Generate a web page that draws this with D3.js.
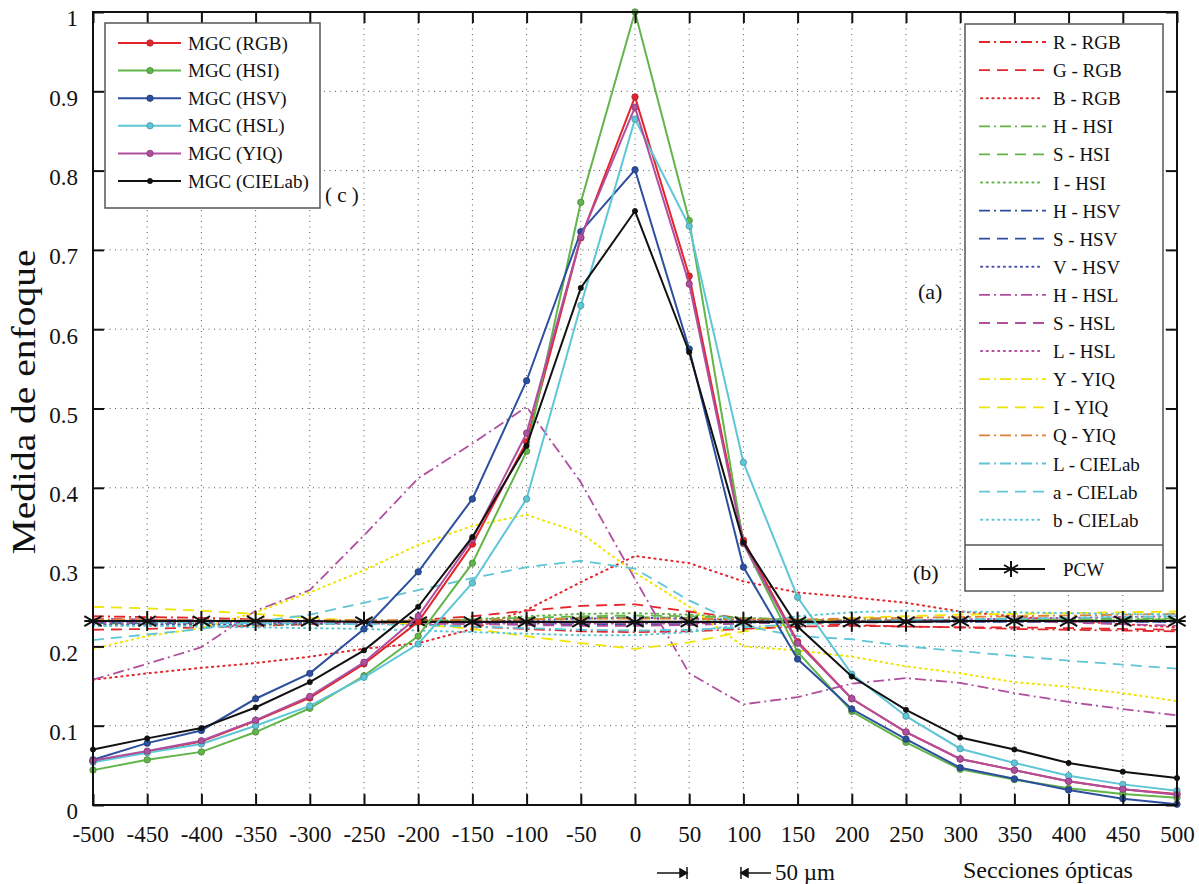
<!DOCTYPE html>
<html><head><meta charset="utf-8">
<script src="https://cdn.jsdelivr.net/npm/d3@7"></script>
<style>body{margin:0;background:#fff}svg{display:block}svg text{font-family:"Liberation Serif","Tinos","Times New Roman","DejaVu Serif","Noto Serif",serif !important;fill:#111}</style>
</head><body><svg id="c" width="1199" height="884"></svg>
<script>
const xs = [-500,-450,-400,-350,-300,-250,-200,-150,-100,-50,0,50,100,150,200,250,300,350,400,450,500];
const yTicks = [0,0.1,0.2,0.3,0.4,0.5,0.6,0.7,0.8,0.9,1];
const yTickLabels = ["0","0.1","0.2","0.3","0.4","0.5","0.6","0.7","0.8","0.9","1"];

// MGC series (solid with markers)
const mgcNames = ["MGC (RGB)","MGC (HSI)","MGC (HSV)","MGC (HSL)","MGC (YIQ)","MGC (CIELab)"];
const mgcRGB   = [0.055,0.067,0.080,0.106,0.135,0.178,0.231,0.329,0.458,0.715,0.893,0.667,0.334,0.206,0.134,0.092,0.058,0.044,0.030,0.020,0.014];
const mgcHSI   = [0.044,0.057,0.067,0.092,0.122,0.163,0.213,0.305,0.446,0.760,1.000,0.737,0.330,0.193,0.118,0.079,0.045,0.032,0.021,0.014,0.009];
const mgcHSV   = [0.057,0.078,0.094,0.134,0.166,0.222,0.294,0.386,0.535,0.723,0.801,0.575,0.300,0.184,0.121,0.083,0.047,0.033,0.019,0.008,0.001];
const mgcHSL   = [0.054,0.066,0.077,0.100,0.125,0.161,0.203,0.280,0.386,0.630,0.865,0.730,0.432,0.262,0.165,0.112,0.071,0.053,0.037,0.026,0.018];
const mgcYIQ   = [0.056,0.068,0.081,0.107,0.137,0.180,0.238,0.335,0.469,0.716,0.880,0.657,0.330,0.204,0.134,0.092,0.058,0.044,0.030,0.020,0.013];
const mgcCIELab= [0.070,0.084,0.097,0.123,0.155,0.195,0.250,0.338,0.453,0.652,0.749,0.571,0.331,0.225,0.162,0.120,0.085,0.070,0.053,0.042,0.034];
const mgcColors = ["#e3262c","#62b549","#2c4f9e","#5ec6d6","#b14f9f","#111111"];

// PCW
const pcw = [0.232,0.232,0.232,0.232,0.232,0.231,0.231,0.231,0.231,0.231,0.231,0.231,0.231,0.231,0.231,0.231,0.232,0.232,0.232,0.232,0.232];

// channel series
const chNames = ["R - RGB","G - RGB","B - RGB","H - HSI","S - HSI","I - HSI","H - HSV","S - HSV","V - HSV","H - HSL","S - HSL","L - HSL","Y - YIQ","I - YIQ","Q - YIQ","L - CIELab","a - CIELab","b - CIELab"];
const chColors = ["#e3262c","#e3262c","#e3262c","#62b549","#62b549","#62b549","#2c4f9e","#2c4f9e","#4a50b0","#b14f9f","#b14f9f","#b14f9f","#f0e400","#f0e400","#e0802e","#5ec6d6","#5ec6d6","#5ec6d6"];
const chStyles = ["dashdot","dashed","dotted","dashdot","dashed","dotted","dashdot","dashed","dotted","dashdot","dashed","dotted","dashdot","dashed","dashdot","dashdot","dashed","dotted"];
const chR  = [0.238,0.237,0.236,0.234,0.232,0.230,0.228,0.225,0.222,0.219,0.218,0.219,0.222,0.225,0.226,0.225,0.224,0.222,0.221,0.220,0.219];
const chG  = [0.221,0.222,0.224,0.226,0.228,0.230,0.233,0.238,0.245,0.251,0.253,0.244,0.235,0.230,0.227,0.225,0.224,0.224,0.223,0.222,0.221];
const chB  = [0.158,0.166,0.173,0.179,0.187,0.197,0.204,0.222,0.246,0.281,0.314,0.305,0.282,0.268,0.262,0.255,0.244,0.238,0.232,0.228,0.224];
const chHi = [0.232,0.232,0.231,0.231,0.231,0.232,0.232,0.233,0.234,0.236,0.237,0.236,0.234,0.233,0.233,0.233,0.233,0.234,0.234,0.235,0.235];
const chSi = [0.229,0.229,0.229,0.230,0.230,0.231,0.232,0.234,0.236,0.238,0.239,0.238,0.236,0.234,0.233,0.233,0.233,0.233,0.233,0.234,0.234];
const chIi = [0.226,0.226,0.227,0.227,0.228,0.229,0.231,0.234,0.238,0.241,0.242,0.240,0.236,0.233,0.232,0.232,0.232,0.233,0.233,0.233,0.234];
const chHv = [0.233,0.233,0.233,0.233,0.232,0.232,0.232,0.232,0.231,0.231,0.231,0.231,0.231,0.232,0.232,0.232,0.232,0.232,0.232,0.232,0.232];
const chSv = [0.230,0.230,0.230,0.230,0.230,0.230,0.229,0.229,0.228,0.228,0.228,0.228,0.229,0.230,0.230,0.231,0.231,0.231,0.231,0.231,0.231];
const chVv = [0.228,0.228,0.228,0.228,0.229,0.229,0.230,0.231,0.233,0.235,0.236,0.235,0.233,0.232,0.231,0.231,0.231,0.231,0.231,0.231,0.231];
const chHl = [0.158,0.178,0.199,0.245,0.271,0.340,0.412,0.456,0.502,0.407,0.285,0.166,0.127,0.136,0.153,0.160,0.154,0.141,0.130,0.121,0.113];
const chSl = [0.235,0.234,0.233,0.232,0.231,0.230,0.229,0.228,0.227,0.226,0.226,0.227,0.229,0.231,0.232,0.233,0.233,0.232,0.230,0.228,0.226];
const chLl = [0.230,0.230,0.230,0.230,0.230,0.229,0.229,0.229,0.229,0.229,0.229,0.229,0.230,0.231,0.232,0.233,0.234,0.235,0.236,0.237,0.238];
const chY  = [0.197,0.213,0.223,0.243,0.268,0.296,0.328,0.352,0.366,0.343,0.293,0.250,0.200,0.195,0.187,0.175,0.166,0.155,0.149,0.141,0.131];
const chI  = [0.250,0.248,0.245,0.241,0.236,0.232,0.228,0.222,0.213,0.204,0.197,0.205,0.219,0.230,0.236,0.238,0.240,0.241,0.242,0.243,0.244];
const chQ  = [0.234,0.234,0.233,0.233,0.233,0.233,0.233,0.233,0.234,0.235,0.235,0.235,0.234,0.234,0.235,0.236,0.237,0.238,0.239,0.240,0.241];
const chL  = [0.232,0.231,0.230,0.229,0.229,0.228,0.227,0.225,0.223,0.221,0.220,0.221,0.224,0.228,0.231,0.233,0.234,0.235,0.236,0.237,0.238];
const chA  = [0.208,0.215,0.222,0.231,0.240,0.255,0.271,0.286,0.300,0.308,0.298,0.258,0.226,0.213,0.209,0.200,0.194,0.188,0.182,0.177,0.172];
const chBl = [0.226,0.226,0.225,0.224,0.223,0.222,0.220,0.218,0.216,0.214,0.214,0.218,0.228,0.238,0.243,0.245,0.244,0.243,0.242,0.241,0.240];
const chData = [chR,chG,chB,chHi,chSi,chIi,chHv,chSv,chVv,chHl,chSl,chLl,chY,chI,chQ,chL,chA,chBl];

const svg = d3.select("#c");
const L=93,R=1177,T=12,B=805;
const x = d3.scaleLinear().domain([-500,500]).range([L,R]);
const y = d3.scaleLinear().domain([0,1]).range([B,T]);
const dashes = {dashed:"11,7", dashdot:"11,4,2,4", dotted:"1.2,4.5"};

// grid
const g = svg.append("g");
g.selectAll(".gx").data(xs.slice(1,-1)).join("line")
  .attr("x1",d=>x(d)).attr("x2",d=>x(d)).attr("y1",T).attr("y2",B)
  .attr("stroke","#555").attr("stroke-width",1).attr("stroke-dasharray","1,4.5");
g.selectAll(".gy").data(yTicks.slice(1,-1)).join("line")
  .attr("x1",L).attr("x2",R).attr("y1",d=>y(d)).attr("y2",d=>y(d))
  .attr("stroke","#555").attr("stroke-width",1).attr("stroke-dasharray","1,4.5");

const line = d3.line().x((d,i)=>x(xs[i])).y(d=>y(d));

// channel lines
chData.forEach((arr,k)=>{
  const st = (k===12) ? "dotted" : chStyles[k];
  svg.append("path").attr("d",line(arr)).attr("fill","none")
    .attr("stroke",chColors[k]).attr("stroke-width", st==="dotted"?2:1.8)
    .attr("stroke-linecap", st==="dotted"?"round":"butt")
    .attr("stroke-dasharray",dashes[st]);
});

// PCW
function star(sel,cx,cy,s){
  const gg = sel.append("g").attr("stroke","#111").attr("stroke-width",2);
  [0,60,120].forEach(a=>{
    const r=a*Math.PI/180;
    gg.append("line").attr("x1",cx-s*Math.sin(r)).attr("y1",cy-s*Math.cos(r))
      .attr("x2",cx+s*Math.sin(r)).attr("y2",cy+s*Math.cos(r));
  });
  gg.append("line").attr("x1",cx-s*0.87).attr("x2",cx+s*0.87).attr("y1",cy).attr("y2",cy);
}
svg.append("path").attr("d",line(pcw)).attr("fill","none").attr("stroke","#111").attr("stroke-width",2.2);
pcw.forEach((v,i)=>star(svg,x(xs[i]),y(v),10));

// MGC lines
const mgcData=[mgcRGB,mgcHSI,mgcHSV,mgcHSL,mgcYIQ,mgcCIELab];
mgcData.forEach((arr,k)=>{
  svg.append("path").attr("d",line(arr)).attr("fill","none").attr("stroke",mgcColors[k]).attr("stroke-width",2);
  svg.append("g").selectAll("circle").data(arr).join("circle")
    .attr("cx",(d,i)=>x(xs[i])).attr("cy",d=>y(d)).attr("r",k===5?2.6:3.2)
    .attr("fill",mgcColors[k]).attr("stroke",d3.color(mgcColors[k]).darker(0.8)).attr("stroke-width",0.8);
});

// frame
svg.append("rect").attr("x",L).attr("y",T).attr("width",R-L).attr("height",B-T)
  .attr("fill","none").attr("stroke","#111").attr("stroke-width",2);

// axes
const ax = svg.append("g").attr("transform",`translate(0,${B})`)
  .call(d3.axisBottom(x).tickValues(xs).tickSize(-11).tickPadding(21).tickFormat(d=>String(d)));
const ay = svg.append("g").attr("transform",`translate(${L},0)`)
  .call(d3.axisLeft(y).tickValues(yTicks).tickSize(-11).tickPadding(15).tickFormat((d,i)=>yTickLabels[i]));
const axt = svg.append("g").attr("transform",`translate(0,${T})`)
  .call(d3.axisTop(x).tickValues(xs).tickSize(-11).tickFormat(""));
const ayr = svg.append("g").attr("transform",`translate(${R},0)`)
  .call(d3.axisRight(y).tickValues(yTicks).tickSize(-11).tickFormat(""));
[ax,ay,axt,ayr].forEach(a=>{
  a.select(".domain").remove();
  a.selectAll(".tick line").attr("stroke","#111").attr("stroke-width",2);
  a.selectAll("text").attr("fill","#111");
});
ax.selectAll("text").attr("font-size",23);
ay.selectAll("text").attr("font-size",23).attr("dy","0.6em");

// axis titles
svg.append("text").attr("transform","translate(35,402) rotate(-90)").attr("text-anchor","middle")
  .attr("font-size",34).attr("textLength",305).attr("lengthAdjust","spacingAndGlyphs").text("Medida de enfoque");
svg.append("text").attr("x",963).attr("y",878).attr("font-size",24).text("Secciones ópticas");

// 50 µm annotation
const an = svg.append("g").attr("stroke","#111").attr("stroke-width",1.5);
an.append("line").attr("x1",657).attr("x2",686).attr("y1",873).attr("y2",873);
an.append("line").attr("x1",687).attr("x2",687).attr("y1",867).attr("y2",879);
an.append("path").attr("d","M680,869 L687,873 L680,877 Z").attr("fill","#111");
an.append("line").attr("x1",741).attr("x2",771).attr("y1",873).attr("y2",873);
an.append("line").attr("x1",741).attr("x2",741).attr("y1",867).attr("y2",879);
an.append("path").attr("d","M748,869 L741,873 L748,877 Z").attr("fill","#111");
svg.append("text").attr("x",775).attr("y",880).attr("font-size",23).text("50 µm");

// labels
svg.append("text").attr("x",325).attr("y",202).attr("font-size",21).text("( c )");
svg.append("text").attr("x",918).attr("y",299).attr("font-size",22).text("(a)");
svg.append("text").attr("x",913).attr("y",580).attr("font-size",22).text("(b)");

// left legend
const lg = svg.append("g");
lg.append("rect").attr("x",105).attr("y",23).attr("width",215).attr("height",185)
  .attr("fill","#fff").attr("stroke","#555").attr("stroke-width",1.5);
mgcNames.forEach((n,k)=>{
  const yy = 43 + k*27.6;
  lg.append("line").attr("x1",118).attr("x2",181).attr("y1",yy).attr("y2",yy).attr("stroke",mgcColors[k]).attr("stroke-width",2);
  lg.append("circle").attr("cx",150).attr("cy",yy).attr("r",k===5?2.6:3.2).attr("fill",mgcColors[k])
    .attr("stroke",d3.color(mgcColors[k]).darker(0.8)).attr("stroke-width",0.8);
  lg.append("text").attr("x",188).attr("y",yy+6.5).attr("font-size",19).text(n);
});

// right legend
const rg = svg.append("g");
rg.append("rect").attr("x",965).attr("y",24).attr("width",198).attr("height",567)
  .attr("fill","#fff").attr("stroke","#555").attr("stroke-width",1.5);
rg.append("line").attr("x1",965).attr("x2",1163).attr("y1",545).attr("y2",545).attr("stroke","#555").attr("stroke-width",1.5);
chNames.forEach((n,k)=>{
  const yy = 42 + k*28.1;
  const st = chStyles[k];
  rg.append("line").attr("x1",st==="dotted"?981:979).attr("x2",st==="dotted"?1040:1046).attr("y1",yy).attr("y2",yy)
    .attr("stroke",chColors[k]).attr("stroke-width",st==="dotted"?2:1.8)
    .attr("stroke-linecap",st==="dotted"?"round":"butt")
    .attr("stroke-dasharray",dashes[st]);
  rg.append("text").attr("x",1053).attr("y",yy+7).attr("font-size",19).text(n);
});
rg.append("line").attr("x1",979).attr("x2",1045).attr("y1",569).attr("y2",569).attr("stroke","#111").attr("stroke-width",2);
star(rg,1011,569,8);
rg.append("text").attr("x",1063).attr("y",576).attr("font-size",19).text("PCW");
</script></body></html>
